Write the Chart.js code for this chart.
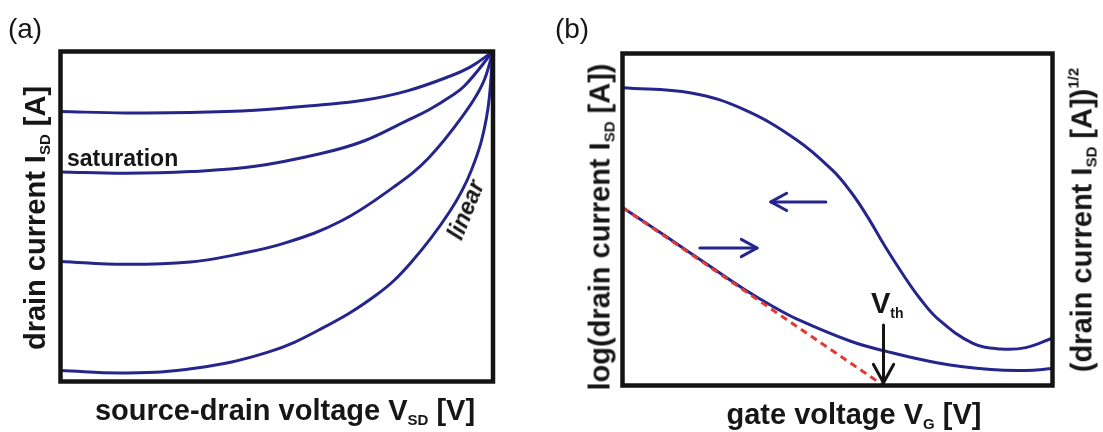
<!DOCTYPE html>
<html><head><meta charset="utf-8">
<script src="https://cdn.jsdelivr.net/npm/chart.js@4.4.1/dist/chart.umd.min.js"></script>
<style>
html,body{margin:0;padding:0;background:#fff;}
#wrap{position:relative;width:1103px;height:432px;overflow:hidden;font-family:"Liberation Sans",Arial,Helvetica,sans-serif;color:#161616;}
canvas{position:absolute;top:0;}
.t{position:absolute;white-space:nowrap;line-height:1;font-weight:bold;font-size:29px;transform:translate(-50%,-50%);}
.r{transform:translate(-50%,-50%) rotate(-90deg);}
.s{font-size:15px;position:relative;top:5px;}
.sp{font-size:15px;position:relative;top:-13px;}
.lbl{position:absolute;white-space:nowrap;line-height:1;}
</style></head>
<body><div id="wrap">
<canvas id="ca" width="551" height="432" style="left:0"></canvas>
<canvas id="cb" width="552" height="432" style="left:551px"></canvas>

<div class="lbl" style="left:25px;top:29px;font-size:28px;transform:translate(-50%,-50%)">(a)</div>
<div class="lbl" style="left:572px;top:29px;font-size:28px;transform:translate(-50%,-50%)">(b)</div>

<div class="t r" style="left:35px;top:218px">drain current I<span class="s">SD</span> [A]</div>
<div class="t" style="left:285px;top:410px">source-drain voltage V<span class="s">SD</span> [V]</div>
<div class="lbl" style="left:67px;top:146.5px;font-size:23px;font-weight:bold">saturation</div>
<div class="lbl" style="left:466px;top:210px;font-size:23px;font-weight:bold;font-style:italic;transform:translate(-50%,-50%) rotate(-68deg)">linear</div>

<div class="t r" style="left:600px;top:227px">log(drain current I<span class="s">SD</span> [A])</div>
<div class="t r" style="left:1082px;top:220px">(drain current I<span class="s">SD</span> [A])<span class="sp">1/2</span></div>
<div class="t" style="left:854px;top:414px">gate voltage V<span class="s">G</span> [V]</div>
<div class="lbl" style="left:871px;top:289.3px;font-size:29px;font-weight:bold">V<span class="s" style="font-size:14px">th</span></div>
</div>
<script>
// ---- panel (a): output characteristics (normalised units 0..1) ----
const outX1 = [0, 0.15, 0.3, 0.45, 0.6, 0.7, 0.8, 0.9, 0.95, 1];
const outY1 = [0.818, 0.814, 0.815, 0.822, 0.838, 0.852, 0.880, 0.925, 0.955, 1];
const outX2 = [0, 0.15, 0.3, 0.45, 0.6, 0.7, 0.8, 0.85, 0.9, 0.935, 1];
const outY2 = [0.635, 0.631, 0.636, 0.652, 0.690, 0.728, 0.790, 0.822, 0.862, 0.897, 1];
const outX3 = [0, 0.15, 0.3, 0.4, 0.52, 0.65, 0.77, 0.85, 0.935, 0.977, 1];
const outY3 = [0.364, 0.355, 0.362, 0.383, 0.420, 0.487, 0.589, 0.676, 0.814, 0.905, 1];
const outX4 = [0, 0.15, 0.31, 0.48, 0.6, 0.73, 0.81, 0.9, 0.95, 0.985, 1];
const outY4 = [0.033, 0.026, 0.040, 0.089, 0.158, 0.262, 0.360, 0.515, 0.640, 0.800, 1];

// ---- panel (b): transfer characteristics ----
const trX1 = [0, 0.16, 0.283, 0.406, 0.487, 0.53, 0.57, 0.61, 0.652, 0.69, 0.734, 0.815, 0.88, 0.938, 1];
const trY1 = [0.897, 0.881, 0.831, 0.739, 0.650, 0.585, 0.508, 0.420, 0.335, 0.265, 0.200, 0.127, 0.110, 0.114, 0.143];
const trX2 = [0, 0.1, 0.2, 0.283, 0.35, 0.406, 0.529, 0.61, 0.734, 0.857, 0.938, 1];
const trY2 = [0.536, 0.450, 0.362, 0.290, 0.238, 0.200, 0.134, 0.104, 0.068, 0.048, 0.045, 0.051];
const vth = 0.607;
const fitX = [0, vth];
const fitY = [0.536, 0];
// annotation arrows [x0, y0, x1, y1] (head at x1,y1)
const arrowLeft = [0.473, 0.553, 0.345, 0.553];
const arrowRight = [0.180, 0.414, 0.313, 0.414];
const arrowVth = [vth, 0.182, vth, 0.008];

const BLUE = '#25258c', RED = '#e23a32', BLACK = '#141414';
const pts = (xs, ys) => xs.map((x, i) => ({x: x, y: ys[i]}));

const frame = {
  id: 'frame',
  afterDatasetsDraw(chart) {
    const a = chart.chartArea, c = chart.ctx;
    c.save(); c.strokeStyle = BLACK; c.lineWidth = 4.5;
    c.strokeRect(a.left, a.top, a.right - a.left, a.bottom - a.top);
    c.restore();
  }
};
function drawArrow(chart, ar, color, width, L) {
  const c = chart.ctx, xs = chart.scales.x, ys = chart.scales.y;
  const x0 = xs.getPixelForValue(ar[0]), y0 = ys.getPixelForValue(ar[1]);
  const x1 = xs.getPixelForValue(ar[2]), y1 = ys.getPixelForValue(ar[3]);
  const ang = Math.atan2(y1 - y0, x1 - x0), w = 0.5;
  c.save(); c.strokeStyle = color; c.lineWidth = width; c.lineCap = 'round'; c.lineJoin = 'round';
  c.beginPath(); c.moveTo(x0, y0); c.lineTo(x1, y1); c.stroke();
  c.beginPath();
  c.moveTo(x1 - L * Math.cos(ang - w), y1 - L * Math.sin(ang - w));
  c.lineTo(x1, y1);
  c.lineTo(x1 - L * Math.cos(ang + w), y1 - L * Math.sin(ang + w));
  c.stroke(); c.restore();
}
const arrows = {
  id: 'arrows',
  afterDatasetsDraw(chart) {
    drawArrow(chart, arrowLeft, BLUE, 3, 18);
    drawArrow(chart, arrowRight, BLUE, 3, 18);
    drawArrow(chart, arrowVth, BLACK, 3, 21);
  }
};

function baseOpts(pad) {
  return {
    responsive: false, animation: false, events: [],
    layout: {padding: pad},
    plugins: {legend: {display: false}, tooltip: {enabled: false}},
    elements: {point: {radius: 0}, line: {borderWidth: 3, tension: 0.4}},
    scales: {
      x: {type: 'linear', min: 0, max: 1, display: false},
      y: {type: 'linear', min: 0, max: 1, display: false}
    }
  };
}
const blue = (xs, ys) => ({data: pts(xs, ys), borderColor: BLUE, fill: false});

new Chart(document.getElementById('ca'), {
  type: 'line',
  data: {datasets: [blue(outX1, outY1), blue(outX2, outY2), blue(outX3, outY3), blue(outX4, outY4)]},
  options: baseOpts({left: 60.5, right: 58, top: 51.5, bottom: 50.5}),
  plugins: [frame]
});

new Chart(document.getElementById('cb'), {
  type: 'line',
  data: {datasets: [
    {data: pts(fitX, fitY), borderColor: RED, borderDash: [7, 5], borderWidth: 3, tension: 0},
    blue(trX1, trY1), blue(trX2, trY2)
  ]},
  options: baseOpts({left: 71.5, right: 50.5, top: 53.5, bottom: 46.5}),
  plugins: [frame, arrows]
});
</script>
</body></html>
